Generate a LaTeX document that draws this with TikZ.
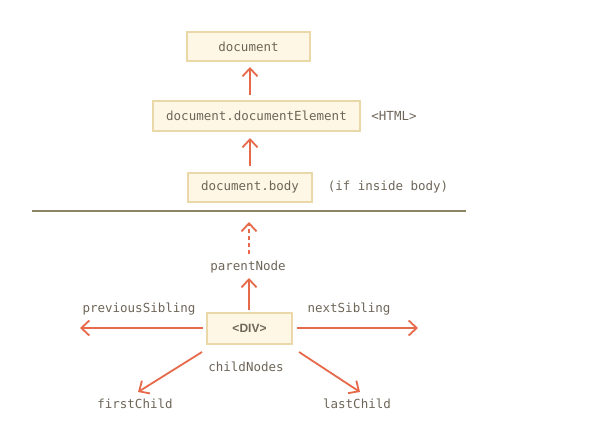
\documentclass[tikz,border=0pt]{standalone}
\usepackage{fontspec}
\setmonofont{DejaVu Sans Mono}
\setsansfont{Liberation Sans}
\usetikzlibrary{arrows.meta}
\definecolor{boxfill}{HTML}{FEF7E6}
\definecolor{boxline}{HTML}{EBD8A8}
\definecolor{arr}{HTML}{E6694A}
\definecolor{txt}{HTML}{6E6558}
\definecolor{rule}{HTML}{8A8560}
\begin{document}
\begin{tikzpicture}[x=1pt,y=-1pt,
  elem/.style={draw=boxline,fill=boxfill,line width=2pt,inner sep=0pt,minimum height=29pt,text=txt,font=\ttfamily\fontsize{12.5}{14}\selectfont},
  lbl/.style={text=txt,font=\ttfamily\fontsize{12.5}{14}\selectfont,inner sep=1pt},
  arrline/.style={draw=arr,line width=1.8pt,-{Straight Barb[length=8pt,width=15pt,line width=1.8pt]}}]
\useasboundingbox (0,0) rectangle (612,433);
\node[elem,minimum width=123pt] (doc) at (248.5,46.5) {document};
\node[elem,minimum width=207pt] (de) at (256.5,116) {document.documentElement};
\node[lbl] (html) at (394,116) {<HTML>};
\node[elem,minimum width=124pt] (body) at (250,187) {document.body};
\node[lbl] (ifb) at (388,187) {(if inside body)};
\coordinate (rl) at (32,211);
\coordinate (rr) at (466,211);
\draw[rule,line width=2pt] (rl) -- (rr);
\node[elem,minimum width=85pt,minimum height=31pt,font=\sffamily\bfseries\fontsize{12}{14}\selectfont] (div) at (249.5,328.5) {<DIV>};
\node[lbl] (pn) at (248,267) {parentNode};
\node[lbl] (ps) at (139,309) {previousSibling};
\node[lbl] (ns) at (349,309) {nextSibling};
\node[lbl] (cn) at (246,367) {childNodes};
\node[lbl] (fc) at (135,404) {firstChild};
\node[lbl] (lc) at (357,404) {lastChild};
\coordinate (a1s) at (250,95); \coordinate (a1e) at (250,67);
\coordinate (a2s) at (250,166); \coordinate (a2e) at (250,138);
\coordinate (dps) at (249,254); \coordinate (dpe) at (249,222);
\coordinate (ups) at (249,310); \coordinate (upe) at (249,278);
\coordinate (lfs) at (203,328); \coordinate (lfe) at (80,328);
\coordinate (rts) at (297,328); \coordinate (rte) at (418,328);
\coordinate (dls) at (202,352); \coordinate (dle) at (138,392);
\coordinate (drs) at (299,352); \coordinate (dre) at (360,392);
\draw[arrline] (a1s) -- (a1e);
\draw[arrline] (a2s) -- (a2e);
\draw[arrline,dash pattern=on 4pt off 3pt] (dps) -- (dpe);
\draw[arrline] (ups) -- (upe);
\draw[arrline] (lfs) -- (lfe);
\draw[arrline] (rts) -- (rte);
\draw[arrline] (dls) -- (dle);
\draw[arrline] (drs) -- (dre);
\end{tikzpicture}
\end{document}
